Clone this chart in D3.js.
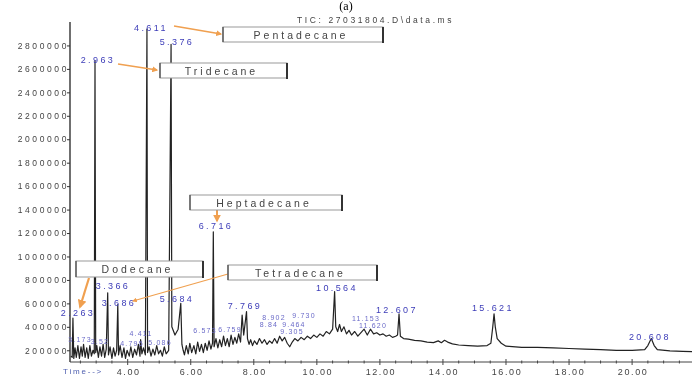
<!DOCTYPE html>
<html lang="en">
<head>
    <meta charset="UTF-8">
    <title>TIC chromatogram (a)</title>
    <script src="https://d3js.org/d3.v7.min.js"></script>
    <style>
        body { margin: 0; background: #fff; }
        svg { display: block; filter: blur(0.35px); }
        .tick-label { font-family: "Liberation Sans", Arial, sans-serif; fill: #444; }
        .peak-label { font-family: "Liberation Sans", Arial, sans-serif; fill: #3c3cb8; }
        .box-text { font-family: "Liberation Sans", Arial, sans-serif; fill: #444; }
    </style>
</head>
<body>
    <script>
        // Chart size
        const width = 692;
        const height = 378;

        // Trace: retention time (min) and abundance
        const times = [
            2.20, 2.24, 2.263, 2.29, 2.33, 2.37, 2.42, 2.47, 2.52, 2.56, 2.60, 2.65, 2.70, 2.75, 2.80, 2.85, 2.90, 2.94,
            2.963, 2.985, 3.02, 3.07, 3.12, 3.17, 3.22, 3.27, 3.32, 3.366, 3.39, 3.44, 3.50, 3.55, 3.60, 3.65,
            3.686, 3.71, 3.76, 3.82, 3.88, 3.93, 3.98, 4.05, 4.10, 4.16, 4.22, 4.28, 4.34, 4.39, 4.411, 4.45,
            4.50, 4.56, 4.611, 4.63, 4.68, 4.74, 4.80, 4.86, 4.92, 4.98, 5.04, 5.10, 5.16, 5.22, 5.30,
            5.376, 5.40, 5.50, 5.60, 5.684, 5.72, 5.76, 5.80, 5.86, 5.92, 5.97, 6.03, 6.10, 6.16, 6.22, 6.28,
            6.34, 6.40, 6.46, 6.52, 6.58, 6.64, 6.69, 6.716, 6.74, 6.80, 6.86, 6.92, 6.98, 7.04, 7.10, 7.16,
            7.22, 7.28, 7.34, 7.40, 7.46, 7.52, 7.58, 7.63, 7.68, 7.769, 7.80, 7.85, 7.90, 7.96, 8.02, 8.10,
            8.18, 8.26, 8.34, 8.42, 8.50, 8.58, 8.66, 8.74, 8.82, 8.90, 8.98, 9.06, 9.14, 9.22, 9.30, 9.40,
            9.50, 9.60, 9.70, 9.80, 9.90, 10.00, 10.10, 10.20, 10.30, 10.40, 10.50, 10.564, 10.60, 10.66, 10.72,
            10.78, 10.86, 10.94, 11.02, 11.10, 11.20, 11.30, 11.40, 11.50, 11.60, 11.70, 11.80, 11.90, 12.00,
            12.10, 12.20, 12.30, 12.40, 12.50, 12.56, 12.607, 12.65, 12.75, 12.90, 13.10, 13.30, 13.50, 13.70,
            13.85, 13.95, 14.05, 14.15, 14.30, 14.50, 14.80, 15.10, 15.40, 15.52, 15.58, 15.621, 15.66, 15.72,
            15.85, 16.00, 16.50, 17.00, 17.50, 18.00, 18.50, 19.00, 19.50, 20.00, 20.40, 20.50, 20.608, 20.70,
            20.80, 21.20, 21.60, 21.90
        ];
        const abundance = [
            150000, 140000, 475000, 130000, 220000, 140000, 240000, 130000, 230000, 150000, 250000, 140000, 220000, 130000, 240000, 150000, 200000, 170000,
            2670000, 180000, 240000, 140000, 230000, 150000, 250000, 140000, 210000, 690000, 160000, 230000, 130000, 220000, 150000, 200000,
            590000, 160000, 240000, 140000, 220000, 130000, 200000, 150000, 230000, 140000, 210000, 160000, 250000, 150000, 290000, 170000,
            220000, 160000, 2940000, 180000, 230000, 150000, 210000, 160000, 240000, 170000, 200000, 150000, 230000, 170000, 200000,
            2810000, 400000, 330000, 380000, 600000, 250000, 200000, 160000, 240000, 170000, 260000, 180000, 240000, 170000, 270000, 190000,
            250000, 180000, 260000, 200000, 280000, 210000, 260000, 1210000, 230000, 300000, 220000, 290000, 230000, 320000, 240000, 300000,
            230000, 330000, 250000, 310000, 260000, 340000, 270000, 500000, 330000, 530000, 300000, 250000, 290000, 240000, 280000, 250000,
            300000, 260000, 290000, 250000, 280000, 260000, 300000, 260000, 320000, 280000, 310000, 260000, 230000, 270000, 300000, 280000,
            310000, 290000, 320000, 300000, 330000, 310000, 340000, 320000, 360000, 340000, 380000, 700000, 400000, 360000, 420000,
            360000, 400000, 340000, 370000, 330000, 360000, 320000, 350000, 380000, 330000, 380000, 340000, 350000, 330000,
            340000, 320000, 330000, 310000, 320000, 330000, 510000, 320000, 300000, 295000, 285000, 280000, 270000, 265000,
            280000, 265000, 285000, 270000, 255000, 245000, 240000, 235000, 240000, 260000, 400000, 510000, 400000, 300000,
            260000, 235000, 225000, 225000, 220000, 215000, 210000, 205000, 200000, 200000, 205000, 240000, 300000, 240000,
            205000, 195000, 190000, 188000
        ];

        // Axis ticks
        const yTicks = [200000, 400000, 600000, 800000, 1000000, 1200000, 1400000, 1600000, 1800000, 2000000, 2200000, 2400000, 2600000, 2800000];
        const xTicks = [4, 6, 8, 10, 12, 14, 16, 18, 20];

        // Peak labels: text, time, abundance at the label baseline
        const labelTexts = ["2.263", "2.963", "3.366", "3.686", "4.611", "5.376", "5.684", "6.716", "7.769", "10.564", "12.607", "15.621", "20.608"];
        const labelTimes = [2.424, 3.058, 3.534, 3.724, 4.739, 5.564, 5.564, 6.800, 7.720, 10.638, 12.541, 15.586, 20.565];
        const labelValues = [492000, 2650000, 723000, 578000, 2923000, 2804000, 612000, 1234000, 552000, 706000, 518000, 535000, 288000];

        // Crowded small labels near the baseline
        const smallTexts = ["3.173", "3.52", "4.411", "4.795", "5.086", "6.573", "6.759", "8.902", "9.730", "8.84", "9.464", "9.305", "11.153", "11.620"];
        const smallTimes = [2.487, 3.121, 4.422, 4.136, 5.024, 6.452, 7.245, 8.640, 9.592, 8.481, 9.274, 9.211, 11.558, 11.780];
        const smallValues = [271000, 254000, 322000, 236000, 245000, 347000, 356000, 458000, 475000, 399000, 399000, 339000, 450000, 390000];

        // Compound call-outs
        const compounds = ["Pentadecane", "Tridecane", "Heptadecane", "Dodecane", "Tetradecane"];
        const boxes = [
            { x: 223, y: 27, w: 160, h: 15, arrow: [174, 26, 221, 34], aw: 1.5 },
            { x: 160, y: 63, w: 127, h: 15, arrow: [118, 64, 157, 70], aw: 1.5 },
            { x: 190, y: 195, w: 152, h: 15, arrow: [217, 210, 217, 221], aw: 2 },
            { x: 76, y: 261, w: 127, h: 16, arrow: [89, 278, 80, 307], aw: 2.2 },
            { x: 228, y: 265, w: 149, h: 15, arrow: [228, 274, 133, 301], aw: 1.2 }
        ];

        const xScale = d3.scaleLinear().domain([2.17, 21.9]).range([70, 692]);
        const yScale = d3.scaleLinear().domain([100000, 3000000]).range([362, 22]);

        const svg = d3.select("body").append("svg")
            .attr("width", width)
            .attr("height", height);

        svg.append("defs").append("marker")
            .attr("id", "head")
            .attr("viewBox", "0 0 10 10")
            .attr("refX", 8).attr("refY", 5)
            .attr("markerWidth", 4).attr("markerHeight", 4)
            .attr("orient", "auto")
            .append("path")
            .attr("d", "M0,0L10,5L0,10Z")
            .attr("fill", "#f0a050");

        // "(a)" and title
        svg.append("text")
            .attr("x", 346).attr("y", 10)
            .attr("text-anchor", "middle")
            .style("font-family", "'Liberation Serif', 'Times New Roman', serif")
            .style("font-size", "12px")
            .text("(a)");

        svg.append("text")
            .attr("class", "tick-label")
            .attr("x", 297).attr("y", 23)
            .style("font-size", "8.5px")
            .style("letter-spacing", "2.6px")
            .text("TIC: 27031804.D\\data.ms");

        // Y axis
        const yAxis = d3.axisLeft(yScale)
            .tickValues(yTicks)
            .tickSize(3)
            .tickFormat(d3.format("d"));
        const gy = svg.append("g").attr("transform", "translate(70,0)").call(yAxis);
        gy.select(".domain").attr("stroke", "#222").attr("stroke-width", 1.3).attr("d", "M0,22V362");
        gy.selectAll(".tick line").attr("stroke", "#333");
        gy.selectAll(".tick text")
            .attr("class", "tick-label")
            .attr("x", -1)
            .style("font-size", "8.5px")
            .style("letter-spacing", "2.6px");

        // X axis with minor ticks
        const minor = d3.range(2.5, 21.9, 0.5);
        svg.append("g").selectAll("line")
            .data(minor)
            .join("line")
            .attr("x1", d => xScale(d)).attr("x2", d => xScale(d))
            .attr("y1", d => d % 2 === 0 ? 359 : 360.5)
            .attr("y2", d => d % 2 === 0 ? 365 : 363.5)
            .attr("stroke", "#444");
        svg.append("line")
            .attr("x1", 70).attr("x2", 692)
            .attr("y1", 362).attr("y2", 362)
            .attr("stroke", "#444");
        svg.append("g").selectAll("text")
            .data(xTicks)
            .join("text")
            .attr("class", "tick-label")
            .attr("x", d => xScale(d) + 1)
            .attr("y", 375)
            .attr("text-anchor", "middle")
            .style("font-size", "9px")
            .style("letter-spacing", "1.6px")
            .text(d => d3.format(".2f")(d));
        svg.append("text")
            .attr("class", "peak-label")
            .attr("x", 63).attr("y", 374)
            .style("font-size", "8px")
            .style("letter-spacing", "1.8px")
            .style("fill", "#5060b0")
            .text("Time-->");

        // Trace
        const trace = times.map((t, i) => [t, abundance[i]]);
        svg.append("path")
            .datum(trace)
            .attr("fill", "none")
            .attr("stroke", "#222")
            .attr("stroke-width", 1.2)
            .attr("stroke-linejoin", "round")
            .attr("d", d3.line().x(d => xScale(d[0])).y(d => yScale(d[1])));

        // Peak labels
        svg.append("g").selectAll("text")
            .data(labelTexts)
            .join("text")
            .attr("class", "peak-label")
            .attr("x", (d, i) => xScale(labelTimes[i]))
            .attr("y", (d, i) => yScale(labelValues[i]))
            .attr("text-anchor", "middle")
            .style("font-size", "9px")
            .style("letter-spacing", "2.4px")
            .text(d => d);

        svg.append("g").selectAll("text")
            .data(smallTexts)
            .join("text")
            .attr("class", "peak-label")
            .attr("x", (d, i) => xScale(smallTimes[i]))
            .attr("y", (d, i) => yScale(smallValues[i]))
            .attr("text-anchor", "middle")
            .style("font-size", "7px")
            .style("letter-spacing", "1.2px")
            .style("fill", "#6a6ac8")
            .text(d => d);

        // Call-out boxes and arrows
        boxes.forEach((b, i) => {
            svg.append("line")
                .attr("x1", b.arrow[0]).attr("y1", b.arrow[1])
                .attr("x2", b.arrow[2]).attr("y2", b.arrow[3])
                .attr("stroke", "#f0a050")
                .attr("stroke-width", b.aw)
                .attr("marker-end", "url(#head)");
            svg.append("rect")
                .attr("x", b.x).attr("y", b.y)
                .attr("width", b.w).attr("height", b.h)
                .attr("fill", "#fff")
                .attr("stroke", "#999");
            svg.append("line")
                .attr("x1", b.x + b.w).attr("x2", b.x + b.w)
                .attr("y1", b.y).attr("y2", b.y + b.h + 1)
                .attr("stroke", "#333").attr("stroke-width", 2);
            svg.append("line")
                .attr("x1", b.x).attr("x2", b.x)
                .attr("y1", b.y).attr("y2", b.y + b.h)
                .attr("stroke", "#555").attr("stroke-width", 1.4);
            svg.append("text")
                .attr("class", "box-text")
                .attr("x", b.x + b.w / 2 - 2)
                .attr("y", b.y + b.h / 2 + 4)
                .attr("text-anchor", "middle")
                .style("font-size", "10.5px")
                .style("letter-spacing", "3px")
                .text(compounds[i]);
        });
    </script>
</body>
</html>
